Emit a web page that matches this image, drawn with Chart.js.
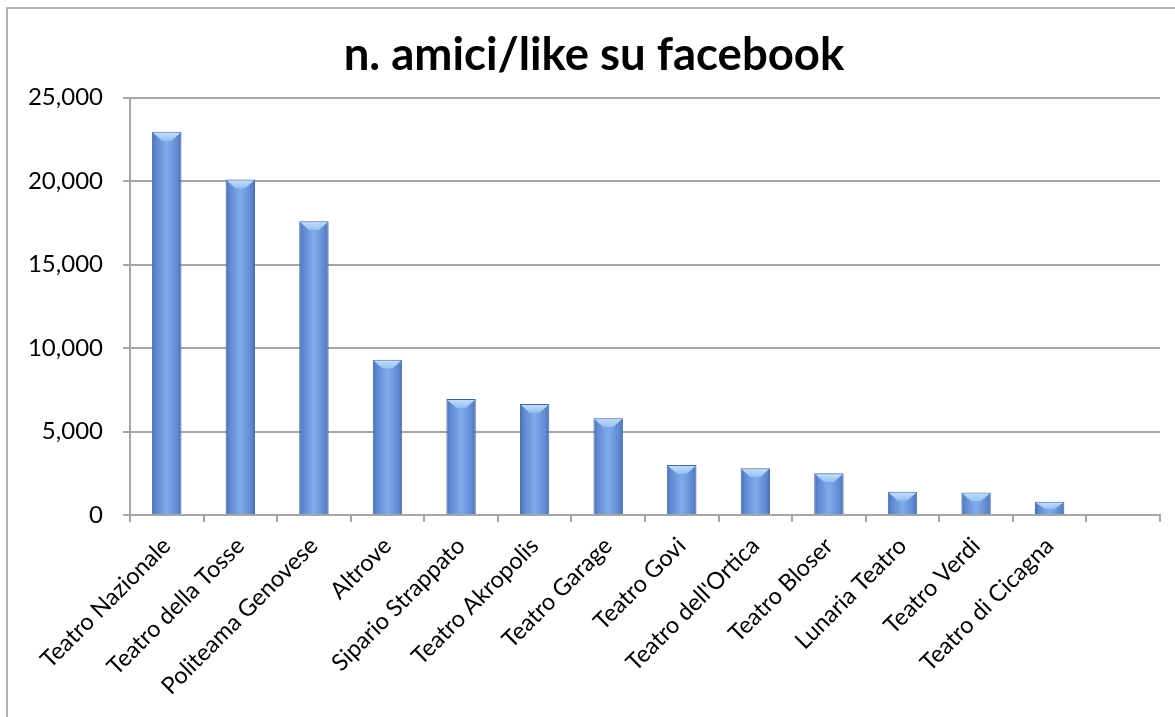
<!DOCTYPE html>
<html>
<head>
<meta charset="utf-8">
<script src="https://cdn.jsdelivr.net/npm/chart.js@4"></script>
<style>
    body{margin:0;background:#fff;}
    #wrap{position:relative;width:1175px;height:717px;}
    #cornice{position:absolute;left:6px;top:7px;right:-10px;bottom:-10px;border-left:2px solid #b3b3b3;border-top:2px solid #b3b3b3;}
</style>
</head>
<body>
<div id="wrap">
    <div id="cornice"></div>
    <canvas id="Grafico1" width="1175" height="717"></canvas>
</div>
<script>
// dati
let teatri=[
    'Teatro Nazionale',
    'Teatro della Tosse',
    'Politeama Genovese',
    'Altrove',
    'Sipario Strappato',
    'Teatro Akropolis',
    'Teatro Garage',
    'Teatro Govi',
    "Teatro dell'Ortica",
    'Teatro Bloser',
    'Lunaria Teatro',
    'Teatro Verdi',
    'Teatro di Cicagna',
    '',
];
let amici=[22950,20100,17600,9300,6950,6650,5800,3000,2800,2500,1400,1350,800,null];
let tacche=[0,5000,10000,15000,20000,25000];

let grigio='#a6a6a6';
let larghezza=0.8*0.5;

// sfumatura orizzontale di ogni barra, dalla scala x
function riempimento(context){
    let chart=context.chart;
    let sx=chart.scales.x;
    if(!sx || !chart.chartArea){
        return '#6f9be0';
    }
    let cx=sx.getPixelForValue(context.dataIndex);
    let w=sx.width/teatri.length*larghezza;
    if(!isFinite(cx) || !(w>0)){
        return '#6f9be0';
    }
    let g=chart.ctx.createLinearGradient(cx-w/2,0,cx+w/2,0);
    g.addColorStop(0,'#4a6fae');
    g.addColorStop(0.14,'#6089d0');
    g.addColorStop(0.5,'#80acee');
    g.addColorStop(0.86,'#6089d0');
    g.addColorStop(1,'#4a6fae');
    return g;
}

// smusso chiaro in cima alle barre
let smusso={
    id:'smusso',
    afterDatasetsDraw(chart){
        let ctx=chart.ctx;
        chart.getDatasetMeta(0).data.forEach((bar,i)=>{
            if(amici[i]==null){ return; }
            let w=bar.width;
            let alto=bar.base-bar.y;
            let h=Math.min(w*0.3,alto*0.6);
            let x1=bar.x-w/2+1, x2=bar.x+w/2-1;
            let g=ctx.createLinearGradient(0,bar.y,0,bar.y+h);
            g.addColorStop(0,'#c6e0fa');
            g.addColorStop(1,'#96c0f3');
            ctx.save();
            ctx.fillStyle=g;
            ctx.beginPath();
            ctx.moveTo(x1,bar.y+1);
            ctx.lineTo(x2,bar.y+1);
            ctx.lineTo(x2-w*0.3,bar.y+h);
            ctx.lineTo(x1+w*0.3,bar.y+h);
            ctx.closePath();
            ctx.fill();
            ctx.restore();
        });
    }
};

let CanvasG1=document.getElementById('Grafico1').getContext('2d');
let datos={
    labels:teatri,
    datasets:[{
        data:amici,
        backgroundColor:riempimento,
        borderColor:'#4165a3',
        borderWidth:1,
        barPercentage:0.8,
        categoryPercentage:0.5,
    }]
};
let opciones={
    responsive:false,
    animation:false,
    devicePixelRatio:1,
    layout:{
        padding:{left:28,right:15,top:0,bottom:0}
    },
    plugins:{
        legend:{display:false},
        tooltip:{enabled:false},
        title:{
            display:true,
            text:'n. amici/like su facebook',
            color:'#000',
            font:{family:'Lato',size:45.5,weight:'bold',lineHeight:1.2},
            padding:{top:28,bottom:15},
        },
    },
    scales:{
        x:{
            grid:{
                display:true,
                offset:true,
                drawOnChartArea:false,
                drawTicks:true,
                tickLength:7,
                color:grigio,
                lineWidth:2,
            },
            border:{color:grigio,width:2},
            ticks:{
                color:'#000',
                font:{family:'Lato',size:23.5},
                maxRotation:45,
                minRotation:45,
                autoSkip:false,
                padding:10,
            },
            afterFit:function(scale){
                scale.height=717-515;
            },
        },
        y:{
            min:0,
            max:25000,
            afterBuildTicks:function(scale){
                scale.ticks=tacche.map(v=>({value:v}));
            },
            grid:{
                color:grigio,
                lineWidth:2,
                tickLength:7,
            },
            border:{color:grigio,width:2},
            ticks:{
                color:'#000',
                font:{family:'Lato',size:24},
                padding:20,
                callback:function(v){
                    return v.toLocaleString('en-US');
                },
            },
            afterFit:function(scale){
                scale.width=130-28;
            },
        },
    },
};
let G1=new Chart(CanvasG1,{
    type:'bar',
    data:datos,
    options:opciones,
    plugins:[smusso],
});
</script>
</body>
</html>
